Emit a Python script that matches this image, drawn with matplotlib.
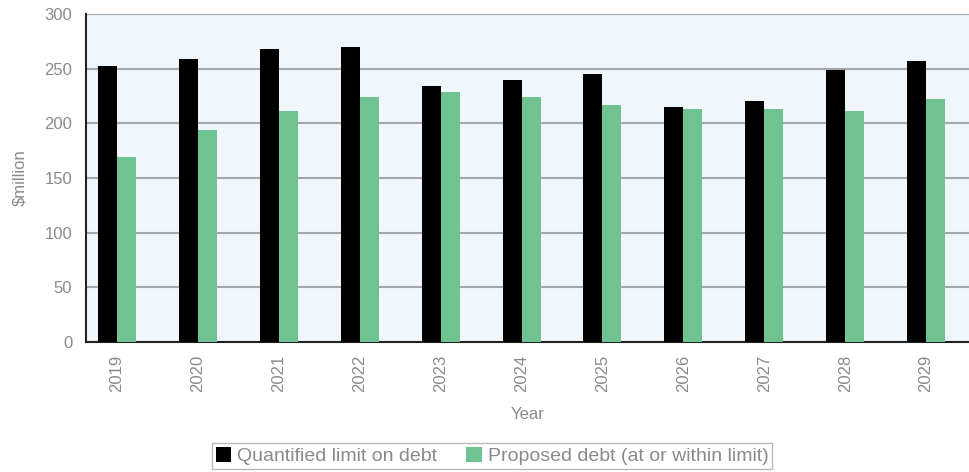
import matplotlib.pyplot as plt
import numpy as np

anos = ['2019', '2020', '2021', '2022', '2023', '2024', '2025', '2026', '2027', '2028', '2029']
limite = [252, 259, 268, 270, 234, 240, 245, 215, 220, 249, 257]
proposta = [169, 194, 211, 224, 229, 224, 217, 213, 213, 211, 222]

plt.rcParams['font.family'] = ['Liberation Sans', 'DejaVu Sans']

fig = plt.figure(figsize=(9.69, 4.72), dpi=100)
ax = fig.add_axes([0.0888, 0.2754, 0.9112, 0.6949])

x = np.arange(len(anos))
w = 0.235
ax.bar(x - w / 2, limite, width=w, color='black', label='Quantified limit on debt', zorder=3)
ax.bar(x + w / 2, proposta, width=w, color='#6fc391', label='Proposed debt (at or within limit)', zorder=3)

ax.set_facecolor('#eff7fd')
ax.set_xlim(-0.383, 10.53)
ax.set_ylim(0, 300)
ax.set_yticks(range(0, 301, 50))
ax.set_xticks(x)
ax.set_xticklabels(anos, rotation=90)
ax.yaxis.grid(True, color='#a3a7ab', linewidth=1.5, zorder=1)
ax.tick_params(axis='both', length=0, labelsize=12, labelcolor='#8a8a8a')
ax.tick_params(axis='y', pad=10)
ax.tick_params(axis='x', pad=9)

for s in ['top', 'right']:
    ax.spines[s].set_visible(False)
ax.spines['left'].set_color('#222222')
ax.spines['bottom'].set_color('#222222')
ax.spines['left'].set_linewidth(1.5)
ax.spines['bottom'].set_linewidth(1.5)

ax.set_ylabel('$million', fontsize=12, color='#8a8a8a', labelpad=12)
ax.set_xlabel('Year', fontsize=12, color='#8a8a8a', labelpad=11)

leg = fig.legend(loc='lower center', bbox_to_anchor=(0.508, -0.015), ncol=2, fontsize=14,
                 frameon=True, fancybox=False, edgecolor='#aaaaaa', handlelength=0.8,
                 handleheight=0.8, handletextpad=0.3, columnspacing=1.5, borderpad=0.2)
for t in leg.get_texts():
    t.set_color('#8a8a8a')

fig.savefig('out.png', dpi=100)
